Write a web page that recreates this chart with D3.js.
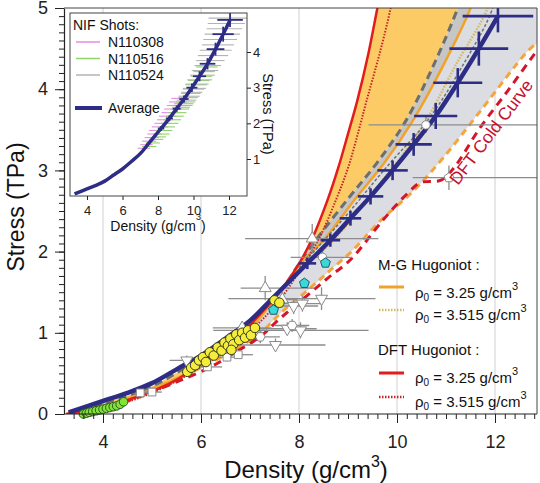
<!DOCTYPE html>
<html lang="en">
<head>
<meta charset="utf-8" />
<title>Stress vs density</title>
<script src="https://cdn.jsdelivr.net/npm/d3@7"></script>
<style>
    body { margin: 0px; background: #fff; }
    text { font-family: "Liberation Sans", Arial, sans-serif; }
</style>
</head>
<body>
<div id="chart"></div>
<script>

// all curves: [density g/cm3, stress TPa]
var avgCurve = [[3.3,0.02],[4,0.16],[4.5,0.26],[5,0.38],[5.5,0.55],[6,0.72],[6.5,0.93],[7,1.15],[7.5,1.45],
    [8.17,1.855],[8.64,2.14],[9.05,2.41],[9.46,2.68],[9.91,3.0],[10.34,3.32],[10.79,3.67],[11.24,4.08],[11.67,4.5],[12.06,4.9]];
// [density, stress, density err, stress err]
var avgErr = [[8.17,1.855,0.18,0.07],[8.64,2.14,0.2,0.08],[9.05,2.41,0.22,0.09],[9.46,2.68,0.26,0.1],[9.91,3.0,0.31,0.12],
    [10.34,3.32,0.37,0.14],[10.79,3.67,0.44,0.16],[11.24,4.08,0.5,0.18],[11.67,4.5,0.6,0.21],[12.06,4.9,0.72,0.2]];

var dftSolid = [[3.25,0],[4,0.08],[5,0.28],[5.5,0.42],[6,0.62],[6.5,0.84],[7,1.1],[7.6,1.5],[8.0,1.85],[8.27,2.16],
    [8.58,2.63],[8.8,3.03],[9.0,3.45],[9.19,3.86],[9.42,4.45],[9.6,5.0],[9.7,5.3]];
var dftDot = [[3.515,0],[4.2,0.1],[5,0.26],[6,0.58],[7,1.02],[7.6,1.4],[8.1,1.85],[8.4,2.15],[8.75,2.63],[9.0,3.03],
    [9.2,3.45],[9.38,3.86],[9.65,4.45],[9.87,5.0],[9.95,5.3]];
var grayDash = [[3.3,0.01],[4,0.13],[5,0.34],[6,0.7],[6.8,1.05],[7.3,1.3],[7.7,1.58],[8.0,1.85],[8.34,2.14],[9.0,2.65],
    [9.6,3.1],[10.18,3.61],[10.75,4.3],[11.24,5.0],[11.4,5.3]];
var mgSolid = [[3.25,0],[4,0.08],[5,0.3],[6,0.6],[7,1.05],[7.6,1.5],[8.1,1.9],[8.5,2.14],[9.15,2.65],[9.75,3.1],
    [10.32,3.61],[10.95,4.3],[11.5,5.0],[11.65,5.3]];
var mgDot = [[3.515,0],[4.5,0.15],[5.5,0.42],[6.5,0.82],[7.3,1.25],[7.9,1.7],[8.7,2.14],[9.4,2.65],[10.0,3.1],
    [10.59,3.61],[11.2,4.3],[11.85,5.0],[11.95,5.3]];
var darkDash = [[8.0,1.8],[8.9,2.4],[9.8,3.05],[10.62,3.61],[11.3,4.25],[11.95,5.0],[12.0,5.3]];
var coldMG = [[3.3,0.02],[4.0,0.1],[4.6,0.21],[5.2,0.36],[5.6,0.46],[6.2,0.63],[6.7,0.8],[7.2,0.99],[7.62,1.24],
    [8.17,1.52],[8.6,1.75],[9.07,2.0],[9.66,2.38],[10.34,2.75],[10.95,3.16],[11.7,3.73],[12.67,4.47],[12.95,4.62]];
var coldDFT = [[3.3,0],[4,0.07],[4.6,0.18],[5.2,0.32],[5.6,0.42],[6.2,0.58],[6.7,0.76],[7.2,0.95],[7.62,1.18],
    [8.17,1.46],[8.6,1.68],[9.05,1.9],[9.73,2.4],[10.22,2.72],[10.48,2.85],[10.9,2.88],[11.16,3.03],[11.7,3.53],
    [12.26,3.98],[12.8,4.43],[12.95,4.55]];

// experimental points
var greenPts = [[3.6,0.0],[3.66,0.01],[3.72,0.02],[3.79,0.03],[3.86,0.04],[3.93,0.05],[4.0,0.06],[4.07,0.07],
    [4.14,0.08],[4.21,0.09],[4.28,0.1],[4.35,0.12],[4.42,0.15]];
var yellowPts = [[5.72,0.52],[5.8,0.57],[5.88,0.6],[5.96,0.66],[6.04,0.7],[6.1,0.64],[6.18,0.76],[6.26,0.72],
    [6.34,0.82],[6.42,0.78],[6.48,0.88],[6.55,0.84],[6.6,0.93],[6.66,0.86],[6.62,0.79],[6.72,0.98],[6.78,0.91],
    [6.84,1.0],[6.9,0.94],[6.96,1.03],[7.02,0.97],[7.1,1.06],[7.5,1.4],[7.6,1.37]];
var cyanPts = [[8.54,1.86],[8.11,1.61],[7.48,1.28]];
// [density, stress, err left, err right, stress err]
var triUp = [[8.27,2.16,1.37,1.35,0.18],[7.31,1.55,0.5,1.0,0.15],[7.66,1.41,0.3,0.3,0.1],[6.84,1.06,0.6,0.6,0.08]];
var triDown = [[8.46,1.42,1.9,1.1,0.14],[7.89,1.33,0.5,0.5,0.1],[8.07,1.36,0.4,0.4,0.1],[8.03,1.03,1.78,1.39,0.1],
    [7.76,1.05,0.6,0.6,0.08],[7.52,0.85,0.86,1.02,0.08],[5.71,0.66,0.35,0.3,0.06]];
var squares = [[6.53,0.70,0.3,0.3,0.05],[6.76,0.73,0.3,0.3,0.05],[6.13,0.58,0.3,0.3,0.05],[5.0,0.27,0.2,0.2,0.04],
    [4.76,0.26,0.2,0.2,0.04]];
var hexes = [[7.86,1.09,0.35,0.35,0.08],[7.21,0.95,0.4,0.4,0.08]];
var openCircles = [[8.48,1.93,0.65,0.61,0.1],[10.59,3.56,1.17,2.5,0.1]];
var openPents = [[11.06,2.91,0.74,2.0,0.15]];

// inset: NIF shots [density, stress, density err]
var shotN110308 = [[7.2,1.3,0.35],[7.35,1.4,0.35],[7.5,1.5,0.4],[7.65,1.6,0.4],[7.8,1.7,0.4],[7.95,1.8,0.45],
    [8.1,1.9,0.45],[8.25,2.0,0.45],[8.4,2.1,0.45],[8.55,2.2,0.5],[8.7,2.3,0.5],[8.85,2.4,0.5],[9.0,2.5,0.5],
    [9.12,2.6,0.5],[9.25,2.7,0.5]];
var shotN110516 = [[7.5,1.35,0.4],[7.7,1.45,0.4],[7.9,1.55,0.4],[8.05,1.62,0.4],[8.2,1.7,0.45],[8.35,1.8,0.45],
    [8.5,1.9,0.45],[8.65,2.0,0.5],[8.8,2.1,0.5],[8.95,2.2,0.5],[9.1,2.3,0.5],[9.25,2.4,0.5],[9.4,2.5,0.55],
    [9.55,2.6,0.55],[9.7,2.72,0.55],[9.85,2.84,0.55],[10.0,2.96,0.6],[10.15,3.08,0.6],[10.3,3.2,0.6],
    [10.45,3.32,0.6],[10.6,3.45,0.6],[10.75,3.58,0.6]];
var shotN110524 = [[9.3,2.45,0.5],[9.45,2.55,0.55],[9.6,2.65,0.55],[9.75,2.76,0.6],[9.9,2.87,0.6],[10.05,2.98,0.65],
    [10.2,3.1,0.65],[10.35,3.22,0.7],[10.5,3.35,0.7],[10.65,3.48,0.75],[10.8,3.62,0.75],[10.95,3.76,0.8],
    [11.1,3.9,0.85],[11.25,4.05,0.9],[11.38,4.2,0.9],[11.5,4.35,0.95],[11.62,4.5,1.0],[11.74,4.65,1.0],
    [11.85,4.8,1.05],[11.95,4.95,1.1]];

var xTicks = [4,6,8,10,12];
var yTicks = [0,1,2,3,4,5];
var insetYTicks = [1,2,3,4];

function polygon(n, r, rot) {
    var pts = [];
    for (var i = 0; i < n; i++) {
        var a = rot + i * 2 * Math.PI / n;
        pts.push([r * Math.cos(a), r * Math.sin(a)]);
    }
    return 'M' + pts.join('L') + 'Z';
}

function main() {
    var svg = d3.select('#chart').append('svg').attr('width', 540).attr('height', 483);
    var box = {l: 64, r: 537, t: 8, b: 414};

    var x = d3.scaleLinear().domain([4, 12]).range([103, 495]);
    var y = d3.scaleLinear().domain([0, 5]).range([414, 8]);
    var xMax = x.invert(box.r), yMax = y.invert(box.t);
    var fmt = d3.format('d');

    svg.append('defs').append('clipPath').attr('id', 'clip-main')
        .append('rect').attr('x', box.l).attr('y', box.t).attr('width', box.r - box.l).attr('height', box.b - box.t);

    //격자
    svg.append('g').selectAll('line').data(xTicks).enter().append('line')
        .attr('x1', function(d) { return x(d); }).attr('x2', function(d) { return x(d); })
        .attr('y1', box.t).attr('y2', box.b)
        .style('stroke', '#d0d0d0').style('stroke-width', 1);

    var line = d3.line().x(function(d) { return x(d[0]); }).y(function(d) { return y(d[1]); })
        .curve(d3.curveCatmullRom.alpha(0.5));

    var plot = svg.append('g').attr('clip-path', 'url(#clip-main)');

    // shaded bands
    var corner = [xMax + 0.3, yMax + 0.3];
    plot.append('path').attr('d', line(grayDash.concat([corner]).concat(coldMG.slice().reverse())) + 'Z')
        .attr('fill', '#dcdde3');
    plot.append('path').attr('d', line(grayDash.concat(mgSolid.slice().reverse())) + 'Z')
        .attr('fill', '#c6c6c6');
    plot.append('path').attr('d', line(dftSolid.concat(grayDash.slice().reverse())) + 'Z')
        .attr('fill', '#fccb66');

    function curve(data, color, width, dash) {
        plot.append('path').attr('d', line(data)).attr('fill', 'none')
            .attr('stroke', color).attr('stroke-width', width)
            .attr('stroke-dasharray', dash || null);
    }
    curve(coldMG, '#f6a53c', 3, '7,5');
    curve(coldDFT, '#d4162c', 3, '8,6');
    curve(grayDash, '#6e6e6e', 3, '8,5');
    curve(mgSolid, '#f2a229', 2.5);
    curve(mgDot, '#d2b964', 2.5, '1.5,1.5');
    curve(darkDash, '#707070', 1.5, '3,2');
    curve(dftDot, '#c4262a', 2, '1.5,1.5');
    curve(dftSolid, '#e31b1b', 2.5);

    // error bars of the open symbols
    var openSets = [triUp, triDown, squares, hexes, openCircles, openPents];
    var bars = plot.append('g').style('stroke', '#8c8c8c').style('stroke-width', 1.3);
    openSets.forEach(function(set) {
        set.forEach(function(p) {
            bars.append('line').attr('x1', x(p[0] - p[2])).attr('x2', x(p[0] + p[3]))
                .attr('y1', y(p[1])).attr('y2', y(p[1]));
            bars.append('line').attr('x1', x(p[0])).attr('x2', x(p[0]))
                .attr('y1', y(p[1] - p[4])).attr('y2', y(p[1] + p[4]));
        });
    });

    // average curve
    plot.append('path').attr('d', line(avgCurve)).attr('fill', 'none')
        .attr('stroke', '#2d2d86').attr('stroke-width', 4.5);
    var ab = plot.append('g').style('stroke', '#2d2d86').style('stroke-width', 2.6);
    avgErr.forEach(function(p) {
        ab.append('line').attr('x1', x(p[0] - p[2])).attr('x2', x(p[0] + p[2])).attr('y1', y(p[1])).attr('y2', y(p[1]));
        ab.append('line').attr('x1', x(p[0])).attr('x2', x(p[0])).attr('y1', y(p[1] - p[3])).attr('y2', y(p[1] + p[3]));
    });

    // markers
    var marks = svg.append('g');
    function symbols(data, path, fill, stroke, rotate) {
        marks.append('g').selectAll('path').data(data).enter().append('path')
            .attr('d', path)
            .attr('transform', function(d) { return 'translate(' + x(d[0]) + ',' + y(d[1]) + ')' + (rotate ? ' rotate(180)' : ''); })
            .attr('fill', fill).attr('stroke', stroke).attr('stroke-width', 1);
    }
    var tri = d3.symbol().type(d3.symbolTriangle).size(62)();
    symbols(triUp, tri, '#fff', '#8a8a8a');
    symbols(triDown, tri, '#fff', '#8a8a8a', true);
    symbols(squares, d3.symbol().type(d3.symbolSquare).size(60)(), '#fff', '#8a8a8a');
    symbols(hexes, polygon(6, 4.8, 0), '#fff', '#8a8a8a');
    symbols(openCircles, d3.symbol().type(d3.symbolCircle).size(55)(), '#fff', '#8a8a8a');
    symbols(openPents, polygon(5, 5, -Math.PI / 2), '#fff', '#8a8a8a');
    symbols(greenPts, d3.symbol().type(d3.symbolCircle).size(58)(), '#7fe33a', '#2e5a18');
    symbols(yellowPts, d3.symbol().type(d3.symbolCircle).size(72)(), '#f4ee3a', '#3a3a20');
    symbols(cyanPts, polygon(5, 5.2, -Math.PI / 2), '#3cd7d9', '#1c5c66');

    // DFT cold curve label
    svg.append('text').attr('transform', 'translate(458,186) rotate(-53)')
        .attr('font-size', 17.5).attr('fill', '#c8102e').text('DFT Cold Curve');

    //축
    function styleAxis(g, size) {
        g.attr('font-family', '"Liberation Sans", Arial, sans-serif').attr('font-size', size);
        g.select('.domain').attr('stroke', '#222').attr('stroke-width', 1.2);
        g.selectAll('.tick line').attr('stroke', '#222');
        g.selectAll('.tick text').attr('fill', '#222');
    }
    var minorX = d3.range(34, 129, 2).map(function(v) { return v / 10; });
    var minorY = d3.range(0, 51, 1).map(function(v) { return v / 10; });

    svg.append('g').attr('transform', 'translate(0,' + box.b + ')')
        .call(d3.axisBottom(x).tickValues(minorX).tickSize(5).tickFormat(''))
        .call(function(g) { g.select('.domain').remove(); g.selectAll('line').attr('stroke', '#222'); });
    svg.append('g').attr('transform', 'translate(' + box.l + ',0)')
        .call(d3.axisLeft(y).tickValues(minorY).tickSize(5).tickFormat(''))
        .call(function(g) { g.select('.domain').remove(); g.selectAll('line').attr('stroke', '#222'); });

    var gx = svg.append('g').attr('transform', 'translate(0,' + box.b + ')')
        .call(d3.axisBottom(x).tickValues(xTicks).tickFormat(fmt).tickSize(9).tickPadding(12).tickSizeOuter(0));
    gx.select('.domain').attr('d', 'M' + box.l + ',0H' + box.r);
    styleAxis(gx, 18);
    var gy = svg.append('g').attr('transform', 'translate(' + box.l + ',0)')
        .call(d3.axisLeft(y).tickValues(yTicks).tickFormat(fmt).tickSize(9).tickPadding(7).tickSizeOuter(0));
    styleAxis(gy, 18);

    svg.append('path').attr('d', 'M' + box.l + ',' + box.t + 'H' + box.r + 'V' + box.b)
        .attr('fill', 'none').attr('stroke', '#444').attr('stroke-width', 1);

    var xt = svg.append('text').attr('x', 306).attr('y', 478).attr('text-anchor', 'middle')
        .attr('font-size', 24).attr('fill', '#111');
    xt.append('tspan').text('Density (g/cm');
    xt.append('tspan').attr('font-size', 16).attr('dy', -11).text('3');
    xt.append('tspan').attr('dy', 11).text(')');

    svg.append('text').attr('transform', 'translate(24,207) rotate(-90)').attr('text-anchor', 'middle')
        .attr('font-size', 23).attr('fill', '#111').text('Stress (TPa)');

    // legend
    var lg = svg.append('g').attr('font-size', 15).attr('fill', '#111');
    lg.append('text').attr('x', 378).attr('y', 270).text('M-G Hugoniot :');
    lg.append('text').attr('x', 378).attr('y', 355).text('DFT Hugoniot :');
    var entries = [
        {y: 287, ty: 298, color: '#f2a229', dash: null, w: 3, label: '3.25'},
        {y: 310, ty: 320, color: '#d2b964', dash: '1.5,1.5', w: 2.5, label: '3.515'},
        {y: 373, ty: 383, color: '#e31b1b', dash: null, w: 3, label: '3.25'},
        {y: 397, ty: 407, color: '#c4262a', dash: '1.5,1.5', w: 2.5, label: '3.515'}
    ];
    entries.forEach(function(e) {
        lg.append('line').attr('x1', 379).attr('x2', 404).attr('y1', e.y).attr('y2', e.y)
            .attr('stroke', e.color).attr('stroke-width', e.w).attr('stroke-dasharray', e.dash);
        var t = lg.append('text').attr('x', 415).attr('y', e.ty);
        t.append('tspan').text('\u03c1');
        t.append('tspan').attr('font-size', 10).attr('dy', 3).text('0');
        t.append('tspan').attr('dy', -3).text(' = ' + e.label + ' g/cm');
        t.append('tspan').attr('font-size', 11).attr('dy', -8).text('3');
    });

    //인셋
    var ib = {l: 70, r: 247, t: 13, b: 196};
    var xi = d3.scaleLinear().domain([4, 12]).range([87, 229]);
    var yi = d3.scaleLinear().domain([1, 4]).range([159, 52]);
    var inset = svg.append('g');
    inset.append('rect').attr('x', ib.l).attr('y', ib.t).attr('width', ib.r - ib.l).attr('height', ib.b - ib.t)
        .attr('fill', '#fff');
    svg.select('defs').append('clipPath').attr('id', 'clip-inset')
        .append('rect').attr('x', ib.l).attr('y', ib.t).attr('width', ib.r - ib.l).attr('height', ib.b - ib.t);
    var ip = inset.append('g').attr('clip-path', 'url(#clip-inset)');

    var shots = [
        {data: shotN110308, color: '#e38ee0', name: 'N110308'},
        {data: shotN110516, color: '#8ed468', name: 'N110516'},
        {data: shotN110524, color: '#b3b3b3', name: 'N110524'}
    ];
    shots.forEach(function(s) {
        ip.append('g').selectAll('line').data(s.data).enter().append('line')
            .attr('x1', function(d) { return xi(d[0] - d[2]); }).attr('x2', function(d) { return xi(d[0] + d[2]); })
            .attr('y1', function(d) { return yi(d[1]); }).attr('y2', function(d) { return yi(d[1]); })
            .attr('stroke', s.color).attr('stroke-width', 1.1);
    });
    var iline = d3.line().x(function(d) { return xi(d[0]); }).y(function(d) { return yi(d[1]); })
        .curve(d3.curveCatmullRom.alpha(0.5));
    ip.append('path').attr('d', iline(avgCurve)).attr('fill', 'none')
        .attr('stroke', '#2d2d86').attr('stroke-width', 3.5);
    avgErr.forEach(function(p) {
        ip.append('line').attr('x1', xi(p[0] - p[2])).attr('x2', xi(p[0] + p[2])).attr('y1', yi(p[1])).attr('y2', yi(p[1]))
            .attr('stroke', '#2d2d86').attr('stroke-width', 1.8);
        ip.append('line').attr('x1', xi(p[0])).attr('x2', xi(p[0])).attr('y1', yi(p[1] - p[3])).attr('y2', yi(p[1] + p[3]))
            .attr('stroke', '#2d2d86').attr('stroke-width', 1.8);
    });
    inset.append('rect').attr('x', ib.l).attr('y', ib.t).attr('width', ib.r - ib.l).attr('height', ib.b - ib.t)
        .attr('fill', 'none').attr('stroke', '#444').attr('stroke-width', 1);

    var gxi = inset.append('g').attr('transform', 'translate(0,' + ib.b + ')')
        .call(d3.axisBottom(xi).tickValues(xTicks).tickFormat(fmt).tickSize(4).tickPadding(6));
    gxi.select('.domain').remove();
    styleAxis(gxi, 13);
    var gyi = inset.append('g').attr('transform', 'translate(' + ib.r + ',0)')
        .call(d3.axisRight(yi).tickValues(insetYTicks).tickFormat(fmt).tickSize(4).tickPadding(2));
    gyi.select('.domain').remove();
    styleAxis(gyi, 13);

    var ixt = inset.append('text').attr('x', 158).attr('y', 231).attr('text-anchor', 'middle')
        .attr('font-size', 14).attr('fill', '#111');
    ixt.append('tspan').text('Density (g/cm');
    ixt.append('tspan').attr('font-size', 9).attr('dy', -11).text('3');
    ixt.append('tspan').attr('dy', 11).text(')');
    inset.append('text').attr('transform', 'translate(263,114) rotate(90)').attr('text-anchor', 'middle')
        .attr('font-size', 14.5).attr('fill', '#111').text('Stress (TPa)');

    var il = inset.append('g').attr('font-size', 14).attr('fill', '#111');
    il.append('text').attr('x', 73).attr('y', 30).text('NIF Shots:');
    shots.forEach(function(s, i) {
        var ly = 42 + i * 16.5;
        il.append('line').attr('x1', 76).attr('x2', 100).attr('y1', ly).attr('y2', ly)
            .attr('stroke', s.color).attr('stroke-width', 1.5);
        il.append('text').attr('x', 108).attr('y', ly + 5).text(s.name);
    });
    il.append('line').attr('x1', 75).attr('x2', 102).attr('y1', 108).attr('y2', 108)
        .attr('stroke', '#2d2d86').attr('stroke-width', 4);
    il.append('text').attr('x', 108).attr('y', 113).text('Average');
}

main();

</script>
</body>
</html>
